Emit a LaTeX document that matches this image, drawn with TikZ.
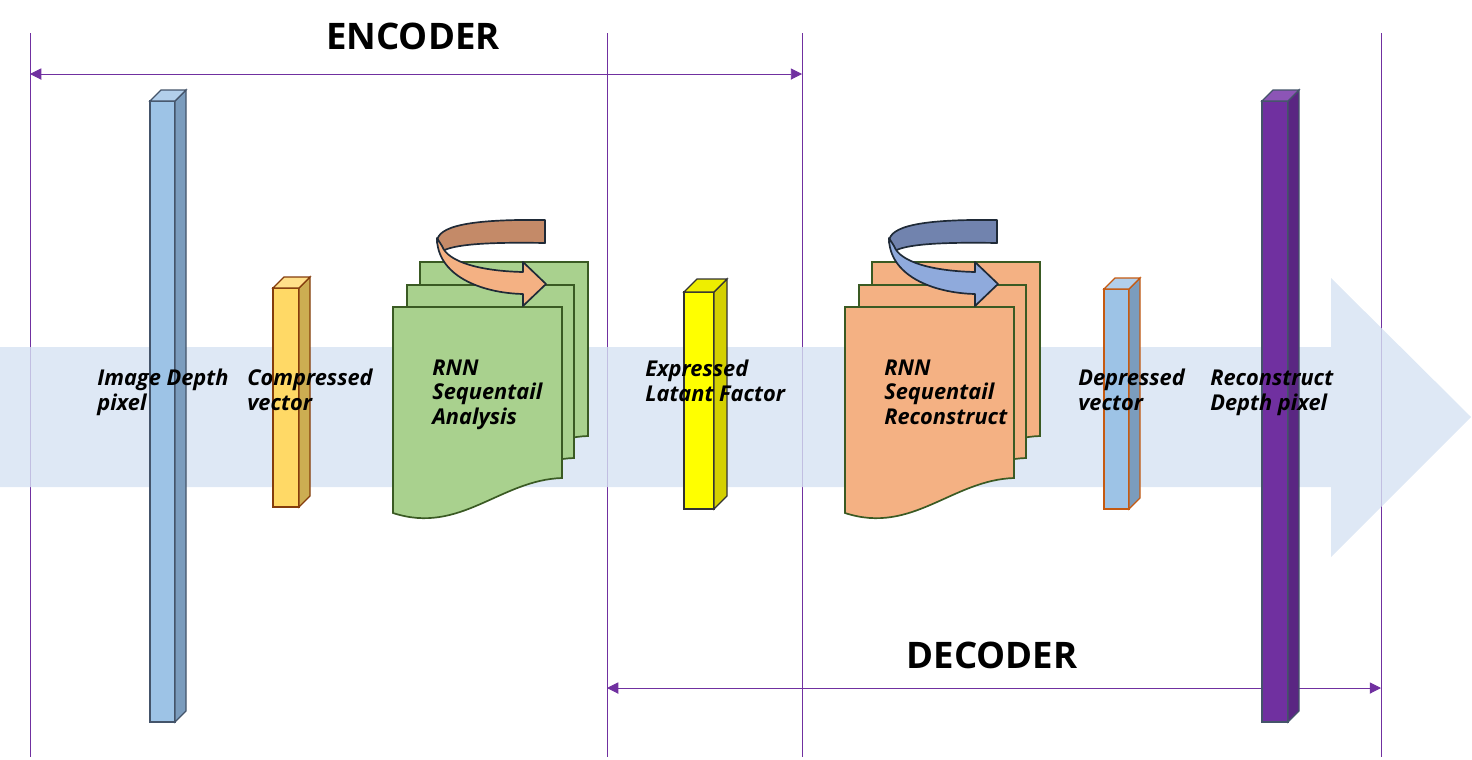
\documentclass[tikz,border=0pt]{standalone}
\usepackage{fontspec}
\setmainfont{Open Sans}
\usepackage{tikz}
\usetikzlibrary{arrows.meta, positioning}
\definecolor{lineapurpura}{HTML}{7030A0}
\definecolor{fondoflecha}{HTML}{D6E2F2}
\definecolor{azulbarra}{HTML}{9DC3E6}
\definecolor{azullado}{HTML}{7B9CBD}
\definecolor{azultapa}{HTML}{B2CFEB}
\definecolor{bordeazul}{HTML}{44546A}
\definecolor{amarillobarra}{HTML}{FFD966}
\definecolor{amarillolado}{HTML}{CCAD52}
\definecolor{amarillotapa}{HTML}{FFE08A}
\definecolor{bordemarron}{HTML}{843C0C}
\definecolor{latente}{HTML}{FFFF00}
\definecolor{latentelado}{HTML}{D4D000}
\definecolor{latentetapa}{HTML}{EEEE00}
\definecolor{bordenegro}{HTML}{333333}
\definecolor{bordenaranja}{HTML}{C55A11}
\definecolor{morado}{HTML}{7030A0}
\definecolor{moradolado}{HTML}{5A2682}
\definecolor{moradotapa}{HTML}{8C55B6}
\definecolor{hojaverde}{HTML}{A9D18E}
\definecolor{hojanaranja}{HTML}{F4B183}
\definecolor{bordeverde}{HTML}{3A5A23}
\definecolor{girooscuro}{HTML}{C48A68}
\definecolor{giroclaro}{HTML}{F4B183}
\definecolor{giroazuloscuro}{HTML}{7183AE}
\definecolor{giroazulclaro}{HTML}{8FAADC}
\definecolor{bordegiro}{HTML}{1F2A37}

% Barra en 3D: x, y arriba, ancho, y abajo, fondo, frente, lado, tapa, borde
\newcommand{\barra}[9]{%
  \filldraw[draw=#9, line width=0.9pt, fill=#6] (#1,#2) rectangle ({#1+#3},#4);
  \filldraw[draw=#9, line width=0.9pt, fill=#7] ({#1+#3},#2) -- ({#1+#3+#5},{#2-#5}) -- ({#1+#3+#5},{#4-#5}) -- ({#1+#3},#4) -- cycle;
  \filldraw[draw=#9, line width=0.9pt, fill=#8] (#1,#2) -- ({#1+#5},{#2-#5}) -- ({#1+#3+#5},{#2-#5}) -- ({#1+#3},#2) -- cycle;
}
% Hoja con borde ondulado: izq, arriba, der, abajo, relleno
\newcommand{\pagina}[5]{%
  \filldraw[pagina, fill=#5] (#1,#2) -- (#3,#2) -- (#3,#4) .. controls ({#3-62},{#4+2}) and ({#3-102},{#4+57}) .. (#1,{#4+35}) -- cycle;
}
% Flecha circular: color de atras, color de adelante
\newcommand{\giro}[2]{%
  \filldraw[giro, fill=#1] (545,220) -- (545,243) .. controls (490,242) and (452,244) .. (441,252) -- (437,242) .. controls (437,226) and (470,219) .. (545,220) -- cycle;
  \filldraw[giro, fill=#2] (437,238) .. controls (437,275) and (480,293) .. (523,294) -- (523,306) -- (546,284) -- (523,262) -- (523,272) .. controls (480,271) and (448,262) .. (442,246) -- cycle;
}

\begin{document}
\begin{tikzpicture}[x=0.025cm, y=-0.025cm, >={Triangle[length=8pt,width=8pt]},
    limite/.style={lineapurpura, line width=0.7pt},
    flecha/.style={<->, lineapurpura, line width=0.7pt},
    etiqueta/.style={font=\fontsize{15.5}{17.4}\selectfont\bfseries\itshape, align=left, anchor=base west, inner sep=0pt},
    titulo/.style={font=\fontsize{26}{30}\selectfont\bfseries, anchor=base, inner sep=0pt},
    pagina/.style={line width=1.2pt, draw=bordeverde},
    giro/.style={line width=1.2pt, draw=bordegiro, line join=round}]
        \useasboundingbox (0,0) rectangle (1472,759);

        % Lineas verticales
        \foreach \xv/\nm in {30/a, 607/b, 802/c, 1381/d} {
            \coordinate (top_\nm) at (\xv,33);
            \coordinate (bot_\nm) at (\xv,757);
            \draw[limite] (top_\nm) -- (bot_\nm);
        }

        % Flechas de encoder y decoder
        \coordinate (enc_ini) at (30,74);
        \coordinate (enc_fin) at (802,74);
        \draw[flecha] (enc_ini) -- (enc_fin);
        \coordinate (dec_ini) at (607,688);
        \coordinate (dec_fin) at (1381,688);
        \draw[flecha] (dec_ini) -- (dec_fin);

        % Flecha grande de fondo
        \fill[fondoflecha, fill opacity=0.8] (0,347) -- (1331,347) -- (1331,278) -- (1471,417)
            -- (1331,557) -- (1331,487) -- (0,487) -- cycle;

        % Barras
        \barra{150}{101}{25}{722}{11}{azulbarra}{azullado}{azultapa}{bordeazul}
        \barra{273}{288}{26}{507}{11}{amarillobarra}{amarillolado}{amarillotapa}{bordemarron}
        \barra{684}{292}{30}{509}{13}{latente}{latentelado}{latentetapa}{bordenegro}
        \barra{1104}{289}{25}{509}{11}{azulbarra}{azullado}{azultapa}{bordenaranja}
        \barra{1262}{101}{26}{722}{11}{morado}{moradolado}{moradotapa}{bordeazul}

        % Hojas RNN del encoder
        \pagina{420}{262}{588}{436}{hojaverde}
        \pagina{407}{285}{574}{458}{hojaverde}
        \pagina{393}{307}{562}{478}{hojaverde}
        \giro{girooscuro}{giroclaro}

        % Hojas RNN del decoder
        \begin{scope}[shift={(452,0)}]
            \pagina{420}{262}{588}{436}{hojanaranja}
            \pagina{407}{285}{574}{458}{hojanaranja}
            \pagina{393}{307}{562}{478}{hojanaranja}
            \giro{giroazuloscuro}{giroazulclaro}
        \end{scope}

        % Etiquetas (base = linea de abajo)
        \node[etiqueta] (img_label) at (97,410) {Image Depth\\pixel};
        \node[etiqueta] (comp_label) at (247,410) {Compressed\\vector};
        \node[etiqueta] (rnn_enc_label) at (432,424) {RNN\\Sequentail\\Analysis};
        \node[etiqueta] (lat_label) at (645,401) {Expressed\\Latant Factor};
        \node[etiqueta] (rnn_dec_label) at (884,424) {RNN\\Sequentail\\Reconstruct};
        \node[etiqueta] (dep_label) at (1078,410) {Depressed\\vector};
        \node[etiqueta] (rec_label) at (1210,410) {Reconstruct\\Depth pixel};

        % Titulos
        \node[titulo] (enc_label) at (413,49) {ENCODER};
        \node[titulo] (dec_label) at (992,668) {DECODER};
    \end{tikzpicture}
\end{document}
